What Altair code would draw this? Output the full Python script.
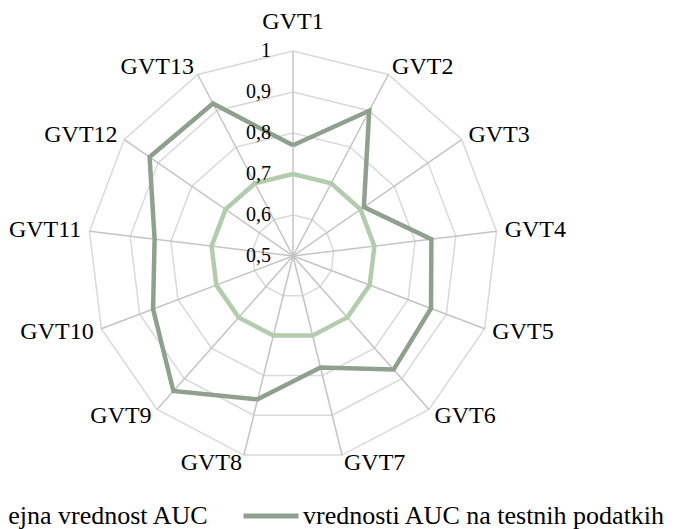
import altair as alt
import numpy as np
import pandas as pd

# ---------------- data ----------------
categories = ["GVT1", "GVT2", "GVT3", "GVT4", "GVT5", "GVT6", "GVT7",
              "GVT8", "GVT9", "GVT10", "GVT11", "GVT12", "GVT13"]
auc_threshold = [0.70, 0.70, 0.70, 0.70, 0.70, 0.70, 0.70,
                 0.70, 0.70, 0.70, 0.70, 0.70, 0.70]
auc_test = [0.77, 0.90, 0.71, 0.84, 0.86, 0.87, 0.78,
            0.86, 0.94, 0.865, 0.84, 0.925, 0.92]
series_names = ["mejna vrednost AUC", "vrednosti AUC na testnih podatkih"]
series_colors = ["#b3ccae", "#8fa08f"]
ring_levels = [0.6, 0.7, 0.8, 0.9, 1.0]
tick_values = [0.5, 0.6, 0.7, 0.8, 0.9, 1.0]
tick_labels = ["0,5", "0,6", "0,7", "0,8", "0,9", "1"]

R_MIN, R_MAX = 0.5, 1.0
LABEL_R = 1.02

# ---------------- layout constants ----------------
W, H = 660, 521
CX, CY = 285, 248          # centre in pixels
PX = 410                   # pixels per unit of radius
x_dom = [-CX / PX, (W - CX) / PX]
y_dom = [-(H - CY) / PX, CY / PX]

n = len(categories)
angles = [2 * np.pi * i / n for i in range(n)]


def polar(v, i):
    r = v - R_MIN
    return r * np.sin(angles[i]), r * np.cos(angles[i])


# series polygons (closed)
rows = []
for name, vals in zip(series_names, [auc_threshold, auc_test]):
    for k in range(n + 1):
        i = k % n
        x, y = polar(vals[i], i)
        rows.append({"series": name, "k": k, "x": x, "y": y})
series_df = pd.DataFrame(rows)

# grid rings
rows = []
for lv in ring_levels:
    for k in range(n + 1):
        i = k % n
        x, y = polar(lv, i)
        rows.append({"level": lv, "k": k, "x": x, "y": y})
rings_df = pd.DataFrame(rows)

# spokes
rows = []
for i in range(n):
    x2, y2 = polar(R_MAX, i)
    rows.append({"x": 0.0, "y": 0.0, "x2": x2, "y2": y2})
spokes_df = pd.DataFrame(rows)

# category labels
rows = []
for i, c in enumerate(categories):
    x, y = polar(LABEL_R, i)
    side = "top" if i == 0 else ("right" if i <= 6 else "left")
    rows.append({"label": c, "x": x, "y": y, "side": side})
labels_df = pd.DataFrame(rows)

ticks_df = pd.DataFrame({"x": [0.0] * len(tick_values),
                         "y": [v - R_MIN for v in tick_values],
                         "label": tick_labels})

xs = alt.Scale(domain=x_dom, nice=False, zero=False)
ys = alt.Scale(domain=y_dom, nice=False, zero=False)
X = alt.X("x:Q", scale=xs, axis=None)
Y = alt.Y("y:Q", scale=ys, axis=None)

FONT = "Liberation Serif"

rings = alt.Chart(rings_df).mark_line(stroke="#d9d9d9", strokeWidth=1.5).encode(
    x=X, y=Y, detail="level:N", order="k:Q")

spokes = alt.Chart(spokes_df).mark_rule(stroke="#c4c4c4", strokeWidth=1.5).encode(
    x=X, y=Y, x2="x2:Q", y2="y2:Q")

lines = alt.Chart(series_df).mark_line(strokeWidth=4.5, strokeJoin="miter").encode(
    x=X, y=Y, order="k:Q",
    color=alt.Color("series:N",
                    scale=alt.Scale(domain=series_names, range=series_colors),
                    legend=alt.Legend(title=None, orient="none", legendX=-82, legendY=478,
                                      direction="horizontal", symbolType="stroke",
                                      symbolStrokeWidth=5, symbolSize=3025,
                                      labelFont=FONT, labelFontSize=26, labelColor="black",
                                      labelOffset=2, columnPadding=24, labelLimit=600)))

ticks = alt.Chart(ticks_df).mark_text(font=FONT, fontSize=20, color="black",
                                       align="right", baseline="middle", dx=-22).encode(
    x=X, y=Y, text="label:N")

lab_top = alt.Chart(labels_df).transform_filter(alt.datum.side == "top").mark_text(
    font=FONT, fontSize=24, color="black", align="center", baseline="middle", dy=-21
).encode(x=X, y=Y, text="label:N")
lab_right = alt.Chart(labels_df).transform_filter(alt.datum.side == "right").mark_text(
    font=FONT, fontSize=24, color="black", align="left", baseline="middle"
).encode(x=X, y=Y, text="label:N")
lab_left = alt.Chart(labels_df).transform_filter(alt.datum.side == "left").mark_text(
    font=FONT, fontSize=24, color="black", align="right", baseline="middle"
).encode(x=X, y=Y, text="label:N")

chart = alt.layer(rings, spokes, lines, ticks, lab_top, lab_right, lab_left).properties(
    width=W, height=H, padding=0, background="white",
    autosize=alt.AutoSizeParams(type="none"),
).configure_view(stroke=None).configure_legend(
    labelFont=FONT, labelFontSize=26, labelColor="black"
)

chart.save("out.html", embed_options={"renderer": "svg", "actions": False})
